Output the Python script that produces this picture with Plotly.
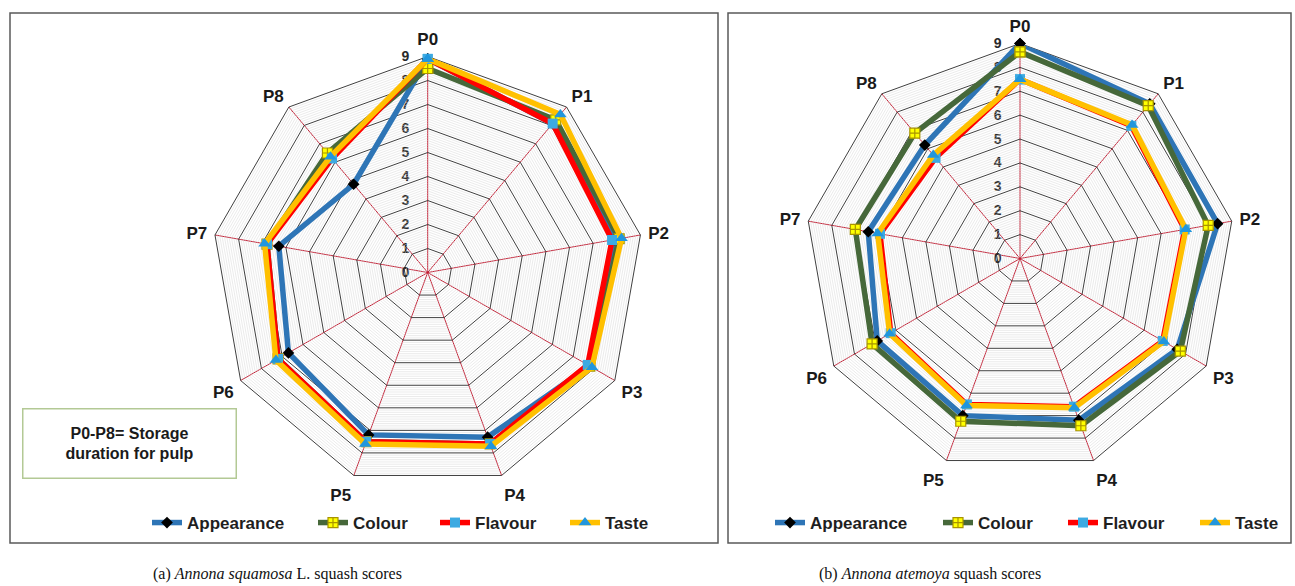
import numpy as np
import plotly.graph_objects as go

categories = ["P0", "P1", "P2", "P3", "P4", "P5", "P6", "P7", "P8"]
series_names = ["Appearance", "Colour", "Flavour", "Taste"]

# (a) Annona squamosa L.
squamosa_appearance = [8.9, 8.1, 7.9, 7.8, 7.3, 7.2, 6.7, 6.3, 4.8]
squamosa_colour = [8.5, 8.3, 8.1, 7.8, 7.6, 7.5, 7.2, 6.8, 6.5]
squamosa_flavour = [8.9, 8.1, 7.8, 7.7, 7.6, 7.5, 7.2, 6.8, 6.2]
squamosa_taste = [8.9, 8.6, 8.2, 7.9, 7.7, 7.6, 7.3, 6.9, 6.3]

# (b) Annona atemoya
atemoya_appearance = [9.0, 8.45, 8.4, 7.6, 7.2, 7.0, 6.9, 6.45, 6.2]
atemoya_colour = [8.65, 8.35, 8.0, 7.75, 7.45, 7.25, 7.15, 7.0, 6.85]
atemoya_flavour = [7.5, 7.25, 7.0, 6.9, 6.6, 6.5, 6.25, 5.95, 5.5]
atemoya_taste = [7.5, 7.3, 7.05, 6.95, 6.65, 6.55, 6.3, 6.05, 5.65]

radial_ticks = [0, 1, 2, 3, 4, 5, 6, 7, 8, 9]

W, H = 1295, 586

line_colors = ["#2E75B6", "#46683A", "#FF0000", "#FFC000"]
markers = [
    dict(symbol="diamond", color="#000000", size=9),
    dict(symbol="square-cross", color="#FFFF00", size=10, line=dict(color="#A89400", width=1.2)),
    dict(symbol="square", color="#3DAAE2", size=10),
    dict(symbol="triangle-up", color="#2196DD", size=11),
]

# legend text start (px) for each series, per panel
left_legend_text_x = [187, 353, 475, 605]
right_legend_text_x = [810, 978, 1103, 1235]

fig = go.Figure()


def add_minor_grid(polar):
    rr, tt = [], []
    for k in range(1, 90):
        if k % 10 == 0:
            continue
        r = k / 10.0
        rr += [r] * (len(categories) + 1) + [None]
        tt += categories + [categories[0]] + [None]
    fig.add_trace(go.Scatterpolar(r=rr, theta=tt, mode="lines", subplot=polar,
                                  line=dict(color="#d6d6d6", width=0.5),
                                  showlegend=False, hoverinfo="skip", connectgaps=False))


def add_series(polar, data, legends):
    for name, vals, col, mk, lg in zip(series_names, data, line_colors, markers, legends):
        fig.add_trace(go.Scatterpolar(
            r=vals + [vals[0]], theta=categories + [categories[0]],
            mode="lines+markers", name=name, subplot=polar, legend=lg,
            line=dict(color=col, width=5.5), marker=mk))


left_legends = ["legend", "legend2", "legend3", "legend4"]
right_legends = ["legend5", "legend6", "legend7", "legend8"]

add_minor_grid("polar")
add_series("polar", [squamosa_appearance, squamosa_colour, squamosa_flavour, squamosa_taste], left_legends)
add_minor_grid("polar2")
add_series("polar2", [atemoya_appearance, atemoya_colour, atemoya_flavour, atemoya_taste], right_legends)


def px_x(x):
    return x / W


def px_y(y):
    return 1 - y / H


def polar_layout(cx, cy, R):
    return dict(
        domain=dict(x=[px_x(cx - R), px_x(cx + R)], y=[px_y(cy + R), px_y(cy - R)]),
        gridshape="linear",
        bgcolor="white",
        radialaxis=dict(range=[0, 9], tickvals=radial_ticks, showline=False,
                        gridcolor="#3f3f3f", gridwidth=1, angle=90, side="counterclockwise", tickangle=90,
                        ticks="outside", ticklen=13, tickcolor="rgba(0,0,0,0)",
                        tickfont=dict(family="Liberation Sans", size=14, color="#2a2a2a", weight="bold"),
                        layer="below traces"),
        angularaxis=dict(type="category", categoryarray=categories, direction="clockwise", rotation=90,
                         gridcolor="#C41E34", gridwidth=1.2, linecolor="#3f3f3f", linewidth=1,
                         ticks="outside", ticklen=4, tickcolor="rgba(0,0,0,0)",
                         tickfont=dict(family="Liberation Sans", size=17, color="#1a1a1a", weight="bold"),
                         layer="below traces"),
    )


legend_font = dict(family="Liberation Sans", size=17, color="#1f1f1f", weight="bold")

layout_legends = {}
for lg, tx in zip(left_legends + right_legends, left_legend_text_x + right_legend_text_x):
    layout_legends[lg] = dict(orientation="h", x=px_x(tx - 40), y=px_y(523), xanchor="left", yanchor="middle",
                              font=legend_font, bgcolor="rgba(0,0,0,0)", itemwidth=30)

fig.update_layout(
    width=W, height=H,
    margin=dict(l=0, r=0, t=0, b=0),
    paper_bgcolor="white",
    polar=polar_layout(427.7, 272.5, 216),
    polar2=polar_layout(1020, 258.5, 215),
    shapes=[
        dict(type="rect", xref="paper", yref="paper", x0=px_x(10), x1=px_x(718), y0=px_y(543), y1=px_y(13),
             line=dict(color="#595959", width=1.5)),
        dict(type="rect", xref="paper", yref="paper", x0=px_x(728), x1=px_x(1291), y0=px_y(543), y1=px_y(13),
             line=dict(color="#595959", width=1.5)),
    ],
    annotations=[
        dict(text="P0-P8= Storage<br>duration for pulp", x=px_x(129), y=px_y(444), xref="paper", yref="paper",
             showarrow=False, width=210, height=66, bordercolor="#b3c995", borderwidth=1.5,
             font=dict(family="Liberation Sans", size=16, color="#1a1a1a", weight="bold"),
             xanchor="center", yanchor="middle", bgcolor="white"),
        dict(text="(a) <i>Annona squamosa</i> L. squash scores", x=px_x(277), y=px_y(574), xref="paper", yref="paper",
             showarrow=False, font=dict(family="Liberation Serif", size=16, color="#111111"),
             xanchor="center", yanchor="middle"),
        dict(text="(b) <i>Annona atemoya</i> squash scores", x=px_x(930), y=px_y(574), xref="paper", yref="paper",
             showarrow=False, font=dict(family="Liberation Serif", size=16, color="#111111"),
             xanchor="center", yanchor="middle"),
    ],
    **layout_legends,
)

fig.write_html("out.html", config={"displayModeBar": False},
               post_script="document.body.style.margin='0';document.body.style.overflow='hidden';")
